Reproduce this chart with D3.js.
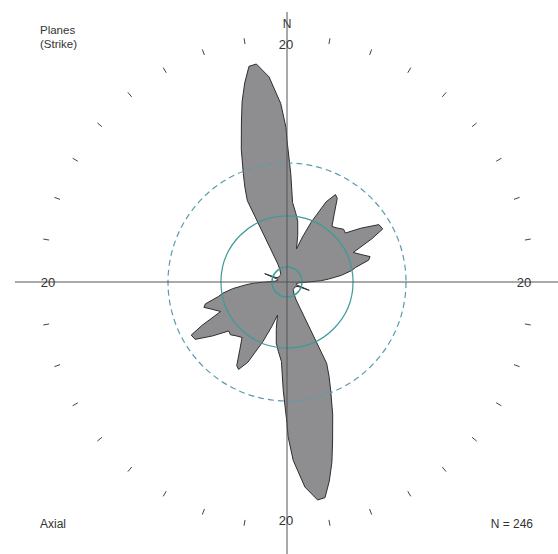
<!DOCTYPE html>
<html>
<head>
<meta charset="utf-8">
<script src="https://cdn.jsdelivr.net/npm/d3@7"></script>
<style>
  html, body { margin: 0; padding: 0; background: #ffffff; }
  svg { display: block; }
  text { font-family: "Liberation Sans", Arial, sans-serif; fill: #333; }
</style>
</head>
<body>
<svg id="rose" width="558" height="554"></svg>
<script>
// Axial strike rose: each frequency is plotted at its azimuth and at azimuth + 180.
const azimuths = [
  0, 2, 4, 7, 10, 13, 16, 19, 22, 26, 29, 31, 35, 39, 43, 47, 50, 54, 58, 61,
  63, 66, 70, 73, 75, 78, 80, 83, 86, 88, 90, 94, 100, 106, 108, 110.5, 112, 120, 130,
  140, 150, 153, 154, 156, 158, 161, 164, 166, 168, 170, 172, 175, 178, 179.6
];
const frequencies = [
  11.9, 9.1, 6.7, 5.9, 5.2, 4.0, 2.9, 4.0, 5.4, 7.5, 8.4, 8.2, 6.9, 6.0, 6.2, 6.5, 6.4, 7.7, 9.1, 9.2,
  8.0, 6.1, 6.7, 7.3, 7.1, 5.9, 5.5, 4.6, 3.5, 2.8, 1.8, 1.0, 0.8, 0.8, 1.1, 2.0, 1.0, 0.8, 0.8,
  0.8, 1.2, 1.7, 7.6, 8.7, 9.8, 11.8, 13.9, 15.6, 17.1, 18.4, 18.5, 17.3, 15.0, 13.0
];

// Scale and reference rings
const scaleMax = 20;
const scaleLabels = ["20", "20", "20", "20"];          // N, E, S, W
const dashedRing = 10;
const solidRing = 5.55;
const innerRing = 1.26;
const sampleCount = 246;

const svg = d3.select("#rose");
const cx = 287, cy = 282;
const r = d3.scaleLinear().domain([0, scaleMax]).range([0, 238]);
const g = svg.append("g").attr("transform", `translate(${cx},${cy})`);

// Petals: both halves of the axial distribution
const pts = azimuths.map((a, i) => ({ a, v: frequencies[i] }))
  .concat(azimuths.map((a, i) => ({ a: a + 180, v: frequencies[i] })));
const petal = d3.lineRadial()
  .angle(d => d.a * Math.PI / 180)
  .radius(d => r(d.v))
  .curve(d3.curveLinearClosed);
g.append("path")
  .attr("d", petal(pts))
  .attr("fill", "#8e8e91")
  .attr("stroke", "#2e2e30")
  .attr("stroke-width", 1)
  .attr("stroke-linejoin", "round");

// Reference rings
g.append("circle").attr("r", r(dashedRing))
  .attr("fill", "none").attr("stroke", "#5a9cab").attr("stroke-width", 1.2)
  .attr("stroke-dasharray", "6,4");
g.append("circle").attr("r", r(solidRing))
  .attr("fill", "none").attr("stroke", "#3f9a98").attr("stroke-width", 1.2);
g.append("circle").attr("r", r(innerRing))
  .attr("fill", "none").attr("stroke", "#3f9a98").attr("stroke-width", 1.5);

// Cross-hair axes
const axisLen = 272;
g.append("line").attr("x1", -axisLen).attr("x2", axisLen).attr("y1", 0).attr("y2", 0)
  .attr("stroke", "#555").attr("stroke-width", 1);
g.append("line").attr("x1", 0).attr("x2", 0).attr("y1", -axisLen + 2).attr("y2", axisLen)
  .attr("stroke", "#555").attr("stroke-width", 1);

// Outer 10-degree ticks
const tickAngles = d3.range(0, 360, 10).filter(a => a % 90 !== 0);
g.selectAll("line.tick").data(tickAngles).enter().append("line")
  .attr("class", "tick")
  .each(function (a) {
    const t = a * Math.PI / 180;
    const r0 = r(scaleMax * 1.015), r1 = r(scaleMax * 1.04);
    d3.select(this)
      .attr("x1", r0 * Math.sin(t)).attr("y1", -r0 * Math.cos(t))
      .attr("x2", r1 * Math.sin(t)).attr("y2", -r1 * Math.cos(t));
  })
  .attr("stroke", "#444").attr("stroke-width", 1);

// Scale labels on the axes
const labelDirs = [[0, -1], [1, 0], [0, 1], [-1, 0]];
g.selectAll("text.scale").data(labelDirs).enter().append("text")
  .attr("class", "scale")
  .attr("x", d => d[0] * r(scaleMax) - 1)
  .attr("y", d => d[1] * r(scaleMax) + 5)
  .attr("text-anchor", "middle")
  .attr("font-size", 13)
  .text((d, i) => scaleLabels[i]);

g.append("text").attr("x", 0).attr("y", -254).attr("text-anchor", "middle")
  .attr("font-size", 12).text("N");

// Corner annotations
svg.append("text").attr("x", 40).attr("y", 34).attr("font-size", 11.5).text("Planes");
svg.append("text").attr("x", 40).attr("y", 48).attr("font-size", 11.5).text("(Strike)");
svg.append("text").attr("x", 40).attr("y", 528).attr("font-size", 12).text("Axial");
svg.append("text").attr("x", 533).attr("y", 528).attr("font-size", 12)
  .attr("text-anchor", "end").text(`N = ${sampleCount}`);
</script>
</body>
</html>
